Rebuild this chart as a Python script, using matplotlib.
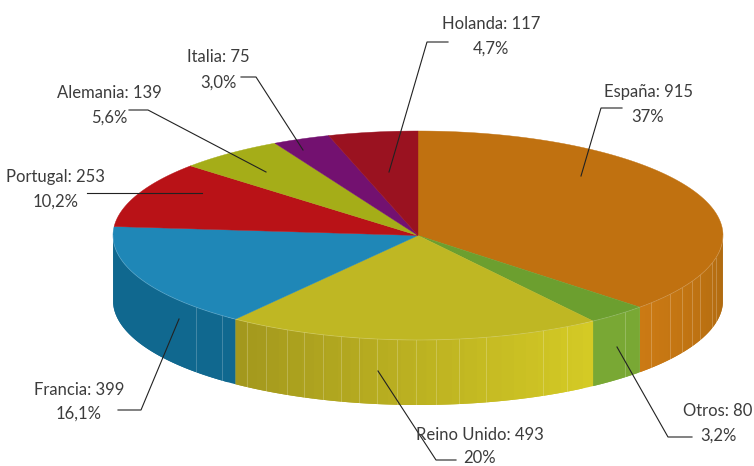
import matplotlib
matplotlib.use('Agg')
import matplotlib.pyplot as plt
import numpy as np

plt.rcParams['font.family'] = ['Lato', 'DejaVu Sans']

g_names = ['España', 'Otros', 'Reino Unido', 'Francia', 'Portugal', 'Alemania', 'Italia', 'Holanda']
g_values = [915, 80, 493, 399, 253, 139, 75, 117]
g_pcts = ['37%', '3,2%', '20%', '16,1%', '10,2%', '5,6%', '3,0%', '4,7%']
g_top_colors = ['#C07110', '#6C9F2F', '#BFB723', '#1F87B7', '#B91217', '#A5AD18', '#731170', '#9A1220']
g_rim_start = ['#AD690F', '#79A834', '#D5CB25', '#10688F', None, None, None, None]
g_rim_end = ['#CC7A14', '#79A834', '#A2971D', '#10688F', None, None, None, None]

# label centres (two lines) and leader lines, in pixels
g_label_xy = [(648, 92), (718, 411), (480, 435), (79, 390), (55, 177), (109, 93), (218, 57), (491, 24)]
g_pct_xy = [(648, 117), (718, 436), (480, 458), (79, 414), (56, 202), (109, 118), (218, 83), (491, 49)]
g_leaders = [
    [(622, 108), (601, 108), (581, 176)],
    [(692, 437), (668, 437), (617, 347)],
    [(456, 460), (436, 460), (378, 371)],
    [(118, 410), (141, 410), (179, 319)],
    [(87, 193), (202, 193)],
    [(129, 110), (148, 110), (266, 172)],
    [(241, 77), (256, 77), (303, 150)],
    [(448, 42), (427, 42), (389, 172)],
]
# x of the thin facet seams on the side of the pie
g_seams = [196, 222, 247, 266, 287, 304, 323, 341, 359, 377, 397, 416, 436, 459, 486, 543, 567, 625,
           651, 670, 682, 692, 700, 712, 716]

cx, cy, rx, ry, depth = 418, 235.5, 305, 104.5, 65


def ell(deg):
    # deg is clockwise from the top of the ellipse
    a = np.radians(deg)
    return cx + rx * np.sin(a), cy - ry * np.cos(a)


def mix(c1, c2, t):
    r1 = np.array(matplotlib.colors.to_rgb(c1))
    r2 = np.array(matplotlib.colors.to_rgb(c2))
    return tuple(r1 + (r2 - r1) * t)


fig = plt.figure(figsize=(7.54, 4.66), dpi=100)
ax = fig.add_axes([0, 0, 1, 1])
ax.set_xlim(0, 754)
ax.set_ylim(466, 0)
ax.axis('off')

g_edges = np.concatenate([[0], np.cumsum(g_values)]) / sum(g_values) * 360

# side of the pie, strips overlap the next one so no gaps show
for i in range(len(g_values)):
    a0, a1 = max(g_edges[i], 90), min(g_edges[i + 1], 270)
    if a1 <= a0 or g_rim_start[i] is None:
        continue
    steps = np.linspace(a0, a1, 31)
    for j in range(30):
        t = np.linspace(steps[j], steps[min(j + 2, 30)], 6)
        x, y = ell(t)
        col = mix(g_rim_start[i], g_rim_end[i], (j + 0.5) / 30)
        ax.fill(np.r_[x, x[::-1]], np.r_[y, y[::-1] + depth], facecolor=col, edgecolor='none', zorder=1)

for sx in g_seams:
    sy = cy + ry * np.sqrt(1 - ((sx - cx) / rx) ** 2)
    ax.plot([sx, sx], [sy, sy + depth], color='white', alpha=0.22, lw=0.7, zorder=2)

# top of the pie
for i in range(len(g_values)):
    t = np.linspace(g_edges[i], g_edges[i + 1], 200)
    x, y = ell(t)
    ax.fill(np.r_[cx, x], np.r_[cy, y], color=g_top_colors[i], lw=0.3, zorder=3)

t = np.linspace(90, 270, 300)
x, y = ell(t)
ax.plot(x, y, color='white', alpha=0.2, lw=0.6, zorder=4)

for i in range(len(g_names)):
    lx, ly = g_label_xy[i]
    px, py = g_pct_xy[i]
    ax.text(lx, ly, f'{g_names[i]}: {g_values[i]}', ha='center', va='center', fontsize=12,
            color='#3c3c3c', zorder=6)
    ax.text(px, py, g_pcts[i], ha='center', va='center', fontsize=12, color='#3c3c3c', zorder=6)
    pts = np.array(g_leaders[i])
    ax.plot(pts[:, 0], pts[:, 1], color='#222222', lw=0.8, zorder=5, solid_joinstyle='miter')

fig.savefig('out.png', dpi=100)
